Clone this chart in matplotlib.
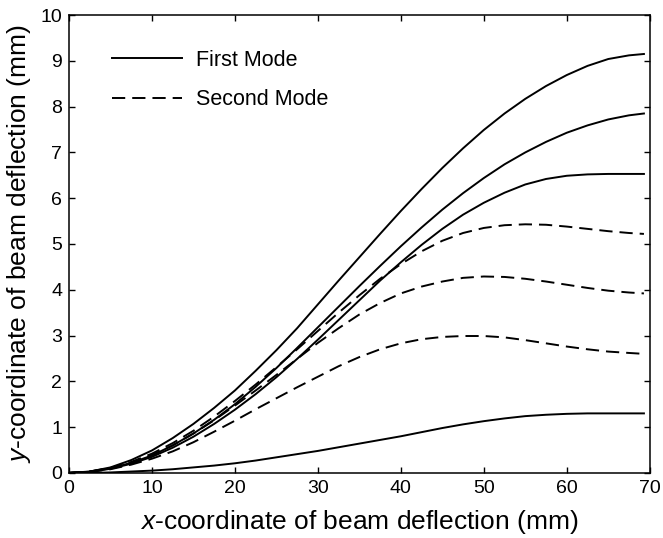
import matplotlib
matplotlib.use("Agg")
import matplotlib.pyplot as plt

plt.rcParams['font.family'] = ['Liberation Sans', 'DejaVu Sans']
plt.rcParams['mathtext.fontset'] = 'custom'
plt.rcParams['mathtext.it'] = 'Liberation Sans:italic'
plt.rcParams['mathtext.rm'] = 'Liberation Sans'

# positions along the beam (mm)
x_mm = [0, 2.5, 5, 7.5, 10, 12.5, 15, 17.5, 20, 22.5, 25, 27.5, 30, 32.5, 35,
        37.5, 40, 42.5, 45, 47.5, 50, 52.5, 55, 57.5, 60, 62.5, 65, 67.5, 69.3]

# first mode deflections (mm)
first_a = [0, 0.03, 0.12, 0.28, 0.49, 0.76, 1.07, 1.42, 1.8, 2.23, 2.68, 3.16, 3.68, 4.2, 4.71,
           5.22, 5.72, 6.2, 6.66, 7.09, 7.49, 7.85, 8.17, 8.45, 8.69, 8.89, 9.04, 9.12, 9.15]
first_b = [0, 0.025, 0.1, 0.22, 0.38, 0.6, 0.86, 1.16, 1.5, 1.88, 2.29, 2.73, 3.18, 3.63, 4.08,
           4.52, 4.95, 5.36, 5.75, 6.11, 6.44, 6.74, 7.0, 7.23, 7.43, 7.59, 7.72, 7.81, 7.85]
first_c = [0, 0.02, 0.09, 0.2, 0.35, 0.55, 0.79, 1.07, 1.38, 1.72, 2.09, 2.49, 2.91, 3.34, 3.77,
           4.2, 4.6, 4.98, 5.33, 5.64, 5.9, 6.12, 6.3, 6.42, 6.49, 6.52, 6.53, 6.53, 6.53]
first_d = [0, 0.0, 0.01, 0.03, 0.05, 0.08, 0.12, 0.16, 0.21, 0.27, 0.34, 0.41, 0.48, 0.56, 0.64,
           0.72, 0.8, 0.89, 0.98, 1.06, 1.13, 1.19, 1.24, 1.27, 1.29, 1.3, 1.3, 1.3, 1.3]

# second mode deflections (mm)
second_a = [0, 0.03, 0.11, 0.24, 0.42, 0.65, 0.92, 1.23, 1.57, 1.93, 2.31, 2.7, 3.1, 3.5, 3.88,
            4.24, 4.56, 4.84, 5.07, 5.24, 5.35, 5.41, 5.43, 5.42, 5.38, 5.33, 5.28, 5.24, 5.22]
second_b = [0, 0.03, 0.1, 0.22, 0.39, 0.6, 0.86, 1.15, 1.47, 1.8, 2.14, 2.49, 2.84, 3.16, 3.46,
            3.71, 3.92, 4.07, 4.18, 4.26, 4.29, 4.28, 4.24, 4.18, 4.11, 4.04, 3.98, 3.94, 3.92]
second_c = [0, 0.02, 0.08, 0.18, 0.31, 0.47, 0.67, 0.9, 1.14, 1.39, 1.63, 1.87, 2.1, 2.33, 2.53,
            2.7, 2.83, 2.92, 2.97, 2.99, 2.99, 2.96, 2.9, 2.83, 2.76, 2.7, 2.65, 2.62, 2.6]

fig = plt.figure(figsize=(6.63, 5.38), dpi=100)
ax = fig.add_axes([0.104, 0.121, 0.876, 0.851])

lw = 1.4
dash = (6.8, 3.6)
for i, y in enumerate([first_a, first_b, first_c, first_d]):
    ax.plot(x_mm, y, color='black', lw=lw, label='First Mode' if i == 0 else None)
for i, y in enumerate([second_a, second_b, second_c]):
    ax.plot(x_mm, y, color='black', lw=lw, linestyle=(0, dash),
            label='Second Mode' if i == 0 else None)

ax.set_xlim(0, 70)
ax.set_ylim(0, 10)
ax.set_xticks(range(0, 71, 10))
ax.set_yticks(range(0, 11))
ax.tick_params(direction='in', top=True, right=True, length=4, width=1,
               labelsize=14, pad=5)
for s in ax.spines.values():
    s.set_linewidth(1.1)

ax.set_xlabel('$\\it{x}$-coordinate of beam deflection (mm)', fontsize=19, labelpad=8)
ax.set_ylabel('$\\it{y}$-coordinate of beam deflection (mm)', fontsize=19, labelpad=5)

ax.legend(loc='upper left', frameon=False, fontsize=15.5, handlelength=3.25,
          handletextpad=0.65, labelspacing=0.85, borderaxespad=0.0,
          bbox_to_anchor=(0.06, 0.943))

fig.savefig('out.png', dpi=100)
